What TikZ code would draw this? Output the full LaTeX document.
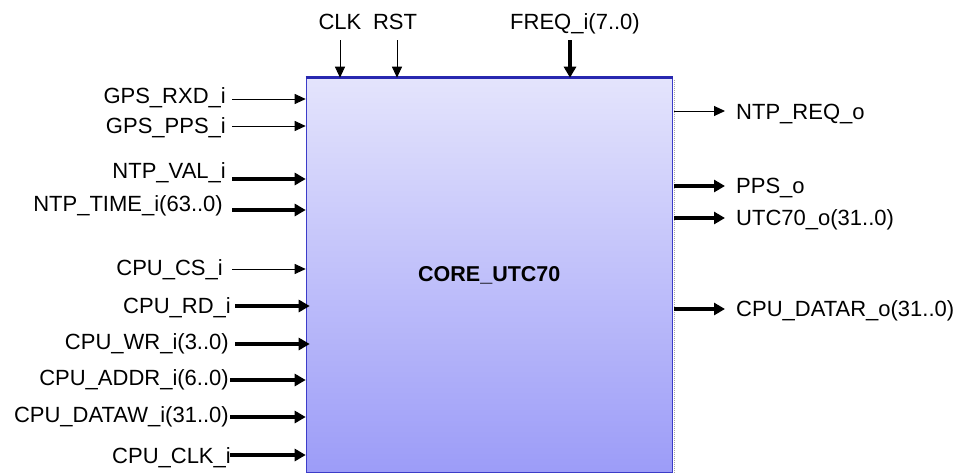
\documentclass[tikz,border=0pt]{standalone}
\usepackage{fontspec}
\setmainfont{Liberation Sans}
\usetikzlibrary{arrows.meta}
\definecolor{coretop}{RGB}{228,228,252}
\definecolor{corebot}{RGB}{156,156,248}
\definecolor{coreedge}{RGB}{60,60,200}
\definecolor{coretopedge}{RGB}{40,40,176}

\begin{document}
\begin{tikzpicture}[
  x=1pt, y=-1pt,
  every node/.style={font=\fontsize{22}{26}\selectfont, inner sep=0pt},
  pinl/.style={anchor=base east},
  pinr/.style={anchor=base west},
  pint/.style={anchor=base},
  wire/.style={line width=1pt, -{Triangle[length=11pt,width=10pt]}},
  bus/.style={line width=4.5pt, -{Triangle[length=11pt,width=12pt]}},
  corebox/.style={draw=coreedge, line width=1.2pt,
    top color=coretop, bottom color=corebot,
    minimum width=366pt, minimum height=394pt,
    font=\fontsize{21.5}{26}\selectfont\bfseries}
]
\useasboundingbox (0,0) rectangle (958,474);

% ── the core block ──────────────────────────────────────────────────
\node[corebox] (core) at (489.3,275.3) {CORE\_UTC70};
\draw[coretopedge, line width=3.5pt] (core.north west) -- (core.north east);
\draw[black!35, densely dotted, line width=1pt]
  ([xshift=2pt,yshift=-2pt]core.north east) -- ([xshift=2pt]core.south east);

% ── top inputs ──────────────────────────────────────────────────────
\node[pint] (clk) at (340,29) {CLK};
\node[pint] (rst) at (395,29) {RST};
\node[pint] (freq) at (575,29) {FREQ\_i(7..0)};
\coordinate (clk-s) at (340,40);
\coordinate (rst-s) at (397,40);
\coordinate (freq-s) at (570,40);
\draw[wire] (clk-s) -- (clk-s |- core.north);
\draw[wire] (rst-s) -- (rst-s |- core.north);
\draw[bus] (freq-s) -- (freq-s |- core.north);

% ── left inputs ─────────────────────────────────────────────────────
\node[pinl] (gpsrxd) at (226,103) {GPS\_RXD\_i};
\node[pinl] (gpspps) at (226,133) {GPS\_PPS\_i};
\node[pinl] (ntpval) at (226,178) {NTP\_VAL\_i};
\node[pinl] (ntptime) at (223,211) {NTP\_TIME\_i(63..0)};
\node[pinl] (cpucs) at (223,275) {CPU\_CS\_i};
\node[pinl] (cpurd) at (231,313) {CPU\_RD\_i};
\node[pinl] (cpuwr) at (229,349) {CPU\_WR\_i(3..0)};
\node[pinl] (cpuaddr) at (229,385) {CPU\_ADDR\_i(6..0)};
\node[pinl] (cpudataw) at (229,422) {CPU\_DATAW\_i(31..0)};
\node[pinl] (cpuclk) at (231,463) {CPU\_CLK\_i};

\coordinate (gpsrxd-s) at (232,99);
\coordinate (gpspps-s) at (232,126);
\coordinate (ntpval-s) at (232,179);
\coordinate (ntptime-s) at (232,210);
\coordinate (cpucs-s) at (232,269);
\coordinate (cpurd-s) at (235,306);
\coordinate (cpuwr-s) at (235,344);
\coordinate (cpuaddr-s) at (230,380);
\coordinate (cpudataw-s) at (230,417);
\coordinate (cpuclk-s) at (230,455);

\draw[wire] (gpsrxd-s) -- (gpsrxd-s -| core.west);
\draw[wire] (gpspps-s) -- (gpspps-s -| core.west);
\draw[bus] (ntpval-s) -- (ntpval-s -| core.west);
\draw[bus] (ntptime-s) -- (ntptime-s -| core.west);
\draw[wire] (cpucs-s) -- (cpucs-s -| core.west);
\draw[bus] (cpurd-s) -- ([xshift=4pt]cpurd-s -| core.west);
\draw[bus] (cpuwr-s) -- ([xshift=4pt]cpuwr-s -| core.west);
\draw[bus] (cpuaddr-s) -- (cpuaddr-s -| core.west);
\draw[bus] (cpudataw-s) -- (cpudataw-s -| core.west);
\draw[bus] (cpuclk-s) -- (cpuclk-s -| core.west);

% ── right outputs ───────────────────────────────────────────────────
\node[pinr] (ntpreq) at (736,119) {NTP\_REQ\_o};
\node[pinr] (pps) at (736,193) {PPS\_o};
\node[pinr] (utc) at (736,225) {UTC70\_o(31..0)};
\node[pinr] (cpudatar) at (736,316) {CPU\_DATAR\_o(31..0)};

\coordinate (ntpreq-e) at (725,111);
\coordinate (pps-e) at (725,186);
\coordinate (utc-e) at (725,218);
\coordinate (cpudatar-e) at (725,309);

\draw[wire] ([xshift=1pt]ntpreq-e -| core.east) -- (ntpreq-e);
\draw[bus] ([xshift=1pt]pps-e -| core.east) -- (pps-e);
\draw[bus] ([xshift=1pt]utc-e -| core.east) -- (utc-e);
\draw[bus] ([xshift=1pt]cpudatar-e -| core.east) -- (cpudatar-e);

\end{tikzpicture}
\end{document}
